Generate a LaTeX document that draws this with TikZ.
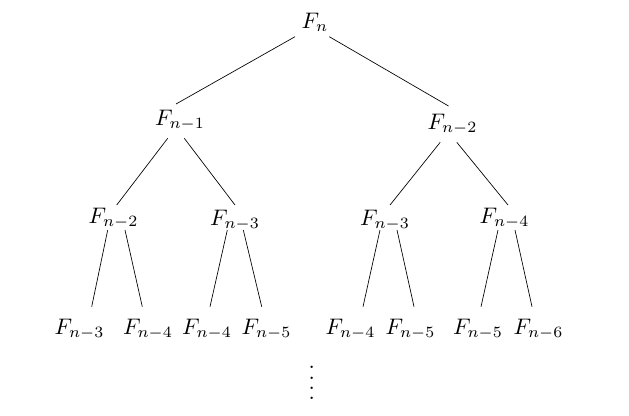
\documentclass[tikz,border=0pt]{standalone}
\usetikzlibrary{calc}
\begin{document}
\begin{tikzpicture}[x=0.4444pt,y=-0.4444pt,
  fib/.style={anchor=base, inner sep=3pt},
  edge/.style={draw=black, line width=0.3pt}]
\useasboundingbox (0,0) rectangle (629,415);
% level 0
\node[fib] (n) at (315,28) {$F_n$};
% level 1
\node[fib] (a) at (180,125) {$F_{n-1}$};
\node[fib] (b) at (452.5,129) {$F_{n-2}$};
% level 2
\node[fib] (aa) at (113.5,223) {$F_{n-2}$};
\node[fib] (ab) at (235,225) {$F_{n-3}$};
\node[fib] (ba) at (385,225) {$F_{n-3}$};
\node[fib] (bb) at (504.5,223) {$F_{n-4}$};
% level 3
\node[fib] (aaa) at (79.5,334) {$F_{n-3}$};
\node[fib] (aab) at (148,334) {$F_{n-4}$};
\node[fib] (aba) at (207,334) {$F_{n-4}$};
\node[fib] (abb) at (266.5,334) {$F_{n-5}$};
\node[fib] (baa) at (350.5,334) {$F_{n-4}$};
\node[fib] (bab) at (410.5,334) {$F_{n-5}$};
\node[fib] (bba) at (478,334) {$F_{n-5}$};
\node[fib] (bbb) at (538.5,334) {$F_{n-6}$};
% dots
\node[inner sep=0pt] (dots) at (311.7,383) {\vbox{\baselineskip4.6pt\lineskiplimit0pt\hbox{.}\hbox{.}\hbox{.}\hbox{.}}};
% edges
\draw[edge] ($(n.base)+(-20,8.7)$) -- ($(a.base)+(-4,-21)$);
\draw[edge] ($(n.base)+(14.3,8.7)$) -- ($(b.base)+(-4,-23)$);
\draw[edge] ($(a.base)+(-12.3,13.3)$) -- ($(aa.base)+(3.2,-18)$);
\draw[edge] ($(a.base)+(4.3,13.3)$) -- ($(ab.base)+(0,-20)$);
\draw[edge] ($(b.base)+(-12.3,13.3)$) -- ($(ba.base)+(5,-20)$);
\draw[edge] ($(b.base)+(4.3,13.3)$) -- ($(bb.base)+(3.5,-18)$);
\draw[edge] ($(aa.base)+(-5.8,7)$) -- ($(aaa.base)+(12.2,-27.3)$);
\draw[edge] ($(aa.base)+(11.5,7)$) -- ($(aab.base)+(-5.7,-27.3)$);
\draw[edge] ($(ab.base)+(-7.7,5)$) -- ($(aba.base)+(3,-27.3)$);
\draw[edge] ($(ab.base)+(8.3,5)$) -- ($(abb.base)+(-4.8,-27.3)$);
\draw[edge] ($(ba.base)+(-5,5)$) -- ($(baa.base)+(12.5,-27.3)$);
\draw[edge] ($(ba.base)+(12,5)$) -- ($(bab.base)+(3.5,-27.3)$);
\draw[edge] ($(bb.base)+(-6.5,7)$) -- ($(bba.base)+(3,-27.3)$);
\draw[edge] ($(bb.base)+(10.5,7)$) -- ($(bbb.base)+(-6.5,-27.3)$);
\end{tikzpicture}
\end{document}
